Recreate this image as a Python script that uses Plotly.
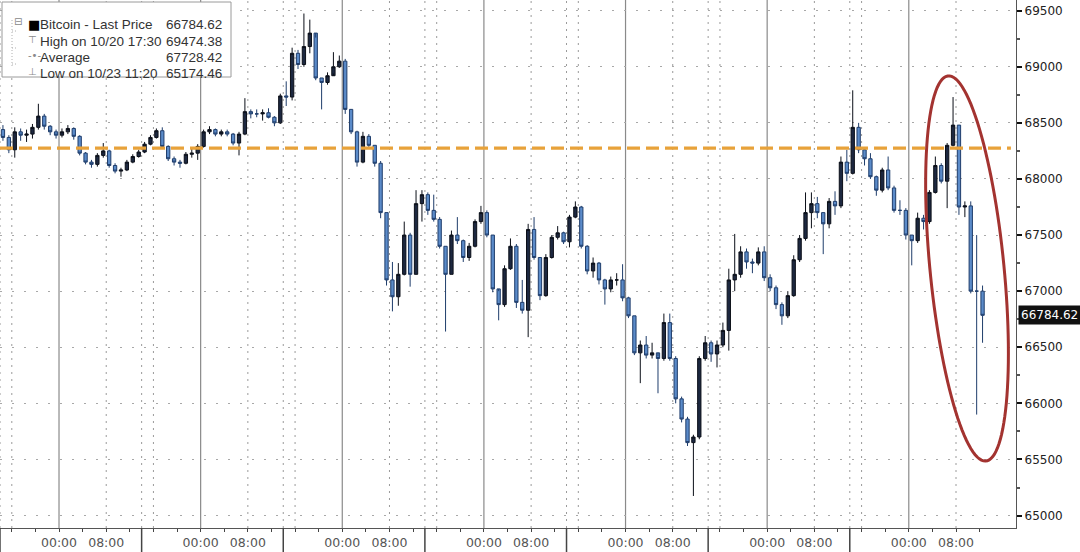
import numpy as np
import pandas as pd
import plotly.graph_objects as go

# ---------------- data (hourly bars) ----------------
BAR_START = "2024-10-18 14:00"
FIRST_OPEN = 68440
CLOSE = [68370, 68260, 68420, 68390, 68400, 68460, 68560, 68470, 68420, 68390,
         68420, 68450, 68380, 68230, 68150, 68130, 68210, 68250, 68120, 68070,
         68080, 68150, 68200, 68240, 68310, 68370, 68430, 68290, 68180, 68150,
         68140, 68220, 68230, 68290, 68420, 68440, 68400, 68420, 68400, 68320,
         68400, 68600, 68580, 68580, 68590, 68550, 68500, 68740, 68730, 69120,
         69020, 69180, 69300, 68900, 68860, 68920, 69000, 69050, 68620, 68420,
         68150, 68380, 68300, 68140, 67700, 67100, 66950, 67150, 67500, 67150,
         67780, 67860, 67720, 67640, 67400, 67150, 67500, 67450, 67300, 67400,
         67620, 67700, 67500, 67020, 66880, 67200, 67400, 66900, 66830, 67550,
         67300, 66960, 67300, 67480, 67520, 67440, 67660, 67750, 67400, 67180,
         67250, 67100, 67020, 67100, 67100, 66940, 66780, 66450, 66520, 66430,
         66450, 66400, 66720, 66400, 66040, 65860, 65650, 65700, 66400, 66540,
         66440, 66520, 66650, 67100, 67150, 67350, 67260, 67250, 67350, 67120,
         67030, 66880, 66780, 66960, 67280, 67470, 67700, 67780, 67700, 67600,
         67800, 67760, 68150, 68050, 68460, 68260, 68180, 68020, 67900, 68080,
         67920, 67720, 67720, 67500, 67450, 67650, 67620, 67880, 68120, 67980,
         68300, 68480, 67750, 67760, 67000, 67000, 66784.62]
HIGH = [68480, 68390, 68460, 68450, 68440, 68490, 68670, 68580, 68480, 68440,
        68450, 68480, 68460, 68390, 68240, 68170, 68230, 68320, 68260, 68140,
        68100, 68170, 68220, 68260, 68330, 68390, 68450, 68460, 68300, 68200,
        68170, 68240, 68270, 68310, 68440, 68470, 68450, 68440, 68440, 68410,
        68420, 68720, 68620, 68620, 68620, 68630, 68560, 68760, 68870, 69170,
        69150, 69474.38, 69420, 69260, 68900, 68950, 69130, 69100, 69070, 68620,
        68430, 68420, 68400, 68300, 68160, 67700, 67260, 67250, 67620, 67520,
        67900, 67900, 67880, 67860, 67660, 67400, 67540, 67660, 67460, 67430,
        67640, 67760, 67720, 67500, 67000, 67230, 67470, 67420, 67100, 67600,
        67660, 67300, 67330, 67500, 67580, 67530, 67680, 67800, 67760, 67410,
        67300, 67260, 67110, 67130, 67160, 67240, 66950, 66780, 66560, 66600,
        66540, 66420, 66800, 66800, 66420, 66060, 65880, 65720, 66420, 66600,
        66560, 66560, 66720, 67200, 67510, 67400, 67380, 67290, 67390, 67400,
        67150, 67050, 66900, 67000, 67320, 67500, 67880, 67880, 67840, 67700,
        67830, 67890, 68200, 68260, 68790, 68500, 68280, 68230, 68030, 68100,
        68200, 67940, 67810, 67740, 67500, 67700, 67680, 67900, 68200, 68140,
        68320, 68730, 68480, 67800, 67800, 67500, 67050]
LOW = [68340, 68230, 68190, 68340, 68330, 68360, 68440, 68440, 68390, 68360,
       68370, 68400, 68350, 68210, 68130, 68100, 68110, 68190, 68100, 68050,
       68020, 68070, 68140, 68190, 68230, 68300, 68360, 68270, 68160, 68120,
       68100, 68130, 68190, 68170, 68280, 68400, 68380, 68380, 68380, 68300,
       68210, 68390, 68540, 68550, 68520, 68540, 68470, 68490, 68650, 68700,
       68980, 69000, 69120, 68880, 68620, 68840, 68940, 68990, 68580, 68400,
       68110, 68140, 68270, 68110, 67650, 67050, 66820, 66870, 67140, 67040,
       67150, 67620, 67680, 67620, 67380, 66640, 67150, 67420, 67260, 67270,
       67390, 67600, 67480, 66990, 66740, 66860, 67190, 66850, 66800, 66590,
       67280, 66920, 66950, 67290, 67460, 67420, 67390, 67650, 67380, 67150,
       67120, 67060, 66880, 66990, 67050, 66910, 66760, 66430, 66180, 66400,
       66400, 66090, 66380, 66380, 66000, 65830, 65620, 65174.46, 65680, 66380,
       66370, 66320, 66500, 66470, 67000, 67120, 67200, 67160, 67230, 67090,
       67000, 66840, 66700, 66760, 66950, 67260, 67450, 67560, 67650, 67330,
       67560, 67680, 67740, 67980, 68040, 68230, 68120, 68000, 67850, 67880,
       67900, 67700, 67680, 67460, 67230, 67430, 67550, 67600, 67870, 67960,
       67740, 68290, 67680, 67660, 66980, 65900, 66540]

X_START = "2024-10-18 14:00"
X_END = "2024-10-25 18:10"
Y_MIN, Y_MAX = 64889, 69595
Y_TICKS = [65000, 65500, 66000, 66500, 67000, 67500, 68000, 68500, 69000, 69500]
REF_LEVEL = 68275
LAST_PRICE = 66784.62
DAYS = ["2024-10-19", "2024-10-20", "2024-10-21", "2024-10-22",
        "2024-10-23", "2024-10-24", "2024-10-25"]
DAY_LABELS = ["19 Oct 2024", "20 Oct 2024", "21 Oct 2024", "22 Oct 2024",
              "23 Oct 2024", "24 Oct 2024", "25 Oct 2024"]
LEGEND_ICONS = ["■", "⊤", "-•-", "⊥"]
LEGEND_NAMES = ["Bitcoin - Last Price", "High on 10/20 17:30", "Average", "Low on 10/23 11:20"]
LEGEND_VALUES = ["66784.62", "69474.38", "67728.42", "65174.46"]
ELLIPSE_CENTER = ("2024-10-25 09:52", 67202)

# ---------------- layout geometry ----------------
W, H = 1080, 552
ML, MR, MT, MB = 0, 64, 0, 24
PW, PH = W - ML - MR, H - MT - MB
X0, X1 = pd.Timestamp(X_START), pd.Timestamp(X_END)


def xp(ts):
    return (pd.Timestamp(ts) - X0) / (X1 - X0)


def px(xpix):
    return xpix / PW


def py(ypix):
    return 1 - ypix / PH


times = pd.date_range(BAR_START, periods=len(CLOSE), freq="h") + pd.Timedelta(minutes=30)
OPEN = [FIRST_OPEN] + CLOSE[:-1]

fig = go.Figure()
fig.add_trace(go.Candlestick(
    x=times, open=OPEN, high=HIGH, low=LOW, close=CLOSE,
    increasing=dict(line=dict(color="#0b0f18", width=1), fillcolor="#1d2840"),
    decreasing=dict(line=dict(color="#1f3d6b", width=1), fillcolor="#5b8bc9"),
    whiskerwidth=0, showlegend=False, hoverinfo="skip",
))

shapes = []
grid_dot = dict(color="#9a9a9a", width=1, dash="2px,5px")
for d in DAYS:
    day = pd.Timestamp(d)
    shapes.append(dict(type="line", xref="paper", yref="paper", x0=xp(day), x1=xp(day),
                       y0=0, y1=1, line=dict(color="#8a8a8a", width=1.2), layer="below"))
    for off in (8, -8, -10):
        t = day + pd.Timedelta(hours=off)
        shapes.append(dict(type="line", xref="paper", yref="paper", x0=xp(t), x1=xp(t),
                           y0=0, y1=1, line=grid_dot, layer="below"))
    sep = day - pd.Timedelta(hours=10)
    shapes.append(dict(type="line", xref="paper", yref="paper", x0=xp(sep), x1=xp(sep),
                       y0=0, y1=-0.1, line=dict(color="#444444", width=1.5)))

# orange dashed reference level
shapes.append(dict(type="line", xref="paper", yref="y", x0=0, x1=0.995,
                   y0=REF_LEVEL, y1=REF_LEVEL,
                   line=dict(color="#e8a23a", width=3.2, dash="13px,6px")))

# red ellipse
tc = pd.Timestamp(ELLIPSE_CENTER[0])
cx = xp(tc) * PW
cy = (Y_MAX - ELLIPSE_CENTER[1]) / (Y_MAX - Y_MIN) * PH
a, b, ang = 193.5, 37.0, np.deg2rad(-5.6)
th = np.linspace(0, 2 * np.pi, 120)
ex = cx + b * np.cos(th) * np.cos(ang) - a * np.sin(th) * np.sin(ang)
ey = cy + b * np.cos(th) * np.sin(ang) + a * np.sin(th) * np.cos(ang)
path = "M " + " L ".join(f"{px(u):.5f},{py(v):.5f}" for u, v in zip(ex, ey)) + " Z"
shapes.append(dict(type="path", xref="paper", yref="paper", path=path,
                   line=dict(color="#a33330", width=3)))

# legend box
shapes.append(dict(type="rect", xref="paper", yref="paper", x0=px(2), x1=px(231),
                   y0=py(77), y1=py(2), line=dict(color="#9a9a9a", width=1),
                   fillcolor="white"))
shapes.append(dict(type="line", xref="paper", yref="paper", x0=px(12), x1=px(12),
                   y0=py(20), y1=py(66), line=dict(color="#b0b0b0", width=1, dash="1px,2px")))
for yy in (31, 48, 64):
    shapes.append(dict(type="line", xref="paper", yref="paper", x0=px(12), x1=px(18),
                       y0=py(yy), y1=py(yy), line=dict(color="#b0b0b0", width=1, dash="1px,2px")))

annotations = []
font_leg = dict(family="Liberation Sans", size=13.5, color="#333333")
row_y = [15, 31.5, 48, 64]
annotations.append(dict(xref="paper", yref="paper", x=px(12), y=py(14), text="⊟",
                        showarrow=False, font=dict(family="DejaVu Sans", size=10, color="#888")))
for i in range(4):
    annotations.append(dict(xref="paper", yref="paper", x=px(26), y=py(row_y[i]),
                            text=LEGEND_ICONS[i], showarrow=False,
                            font=dict(family="DejaVu Sans", size=13 if i == 0 else 10,
                                      color="#000" if i == 0 else "#8a8a8a")))
    annotations.append(dict(xref="paper", yref="paper", x=px(38), y=py(row_y[i]),
                            xanchor="left", text=LEGEND_NAMES[i], showarrow=False, font=font_leg))
    annotations.append(dict(xref="paper", yref="paper", x=px(224), y=py(row_y[i]),
                            xanchor="right", text=LEGEND_VALUES[i], showarrow=False, font=font_leg))

for d, lab in zip(DAYS, DAY_LABELS):
    c = pd.Timestamp(d) + pd.Timedelta(hours=2)
    annotations.append(dict(xref="paper", yref="paper", x=xp(c), y=py(547), yanchor="top",
                            text=lab, showarrow=False,
                            font=dict(family="DejaVu Sans", size=12.5, color="#555555")))

annotations.append(dict(xref="paper", yref="y", x=1, xshift=2, xanchor="left", y=LAST_PRICE,
                        text=f"{LAST_PRICE:.2f}", showarrow=False, bgcolor="#111111",
                        borderpad=2, font=dict(family="DejaVu Sans", size=12, color="white")))

tick_times = pd.date_range("2024-10-18 16:00", "2024-10-25 12:00", freq="4h")
tick_text = [t.strftime("%H:%M") if t.hour in (0, 8) else "" for t in tick_times]

fig.update_layout(
    width=W, height=H, margin=dict(l=ML, r=MR, t=MT, b=MB),
    plot_bgcolor="white", paper_bgcolor="white",
    boxgap=0.2,
    shapes=shapes, annotations=annotations, showlegend=False,
    xaxis=dict(type="date", range=[X0, X1], rangeslider=dict(visible=False),
               tickmode="array", tickvals=tick_times, ticktext=tick_text,
               showgrid=False, ticks="outside", ticklen=3, tickcolor="#444",
               showline=True, linecolor="#555555", linewidth=1.2,
               tickfont=dict(family="DejaVu Sans", size=12.5, color="#555555")),
    yaxis=dict(side="right", range=[Y_MIN, Y_MAX], tickmode="array", tickvals=Y_TICKS,
               ticktext=[str(v) for v in Y_TICKS], showgrid=True, gridcolor="#a8a8a8",
               griddash="2px,10px", gridwidth=1.3, zeroline=False,
               ticks="outside", ticklen=5, tickwidth=2, tickcolor="#111",
               showline=True, linecolor="#555555", linewidth=1.2,
               minor=dict(tick0=65000, dtick=250, ticks="outside", ticklen=3,
                          tickcolor="#555", showgrid=False),
               tickfont=dict(family="DejaVu Sans", size=12, color="#222222")),
)

fig.write_html("out.html", config={"displayModeBar": False},
               post_script="document.body.style.margin='0px';")
